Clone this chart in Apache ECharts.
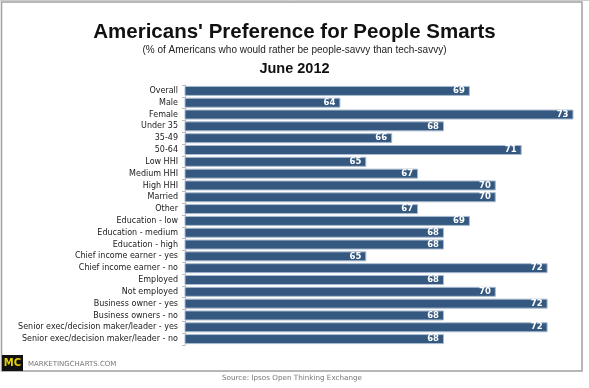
<!DOCTYPE html>
<html><head><meta charset="utf-8">
<script src="https://cdn.jsdelivr.net/npm/echarts@6/dist/echarts.min.js"></script>
<style>html,body{margin:0;padding:0;background:#fff}#c{width:589px;height:388px}</style>
</head><body><div id="c"></div>
<script>
const categories = ["Overall","Male","Female","Under 35","35-49","50-64","Low HHI","Medium HHI","High HHI","Married","Other","Education - low","Education - medium","Education - high","Chief income earner - yes","Chief income earner - no","Employed","Not employed","Business owner - yes","Business owners - no","Senior exec/decision maker/leader - yes","Senior exec/decision maker/leader - no"];
const values = [69,64,73,68,66,71,65,67,70,70,67,69,68,68,65,72,68,70,72,68,72,68];
const titleText = "Americans' Preference for People Smarts";
const subtitleText = "(% of Americans who would rather be people-savvy than tech-savvy)";
const dateText = "June 2012";
const sourceText = "Source: Ipsos Open Thinking Exchange";

const chart = echarts.init(document.getElementById('c'), null, {renderer: 'canvas'});
chart.setOption({
  animation: false,
  backgroundColor: '#fff',
  title: [
    {text: titleText, left: 'center', top: 17, textStyle: {fontFamily: 'Liberation Sans', fontWeight: 'bold', fontSize: 20.5, color: '#111'}},
    {text: subtitleText, left: 'center', top: 40, textStyle: {fontFamily: 'Liberation Sans', fontWeight: 'normal', fontSize: 10, color: '#222'}},
    {text: dateText, left: 'center', top: 56, textStyle: {fontFamily: 'Liberation Sans', fontWeight: 'bold', fontSize: 14.5, color: '#111'}}
  ],
  grid: {left: 185, top: 85, width: 388.5, height: 260, containLabel: false, outerBoundsMode: 'none'},
  xAxis: {type: 'value', min: 58, max: 73, show: false, splitLine: {show: false}},
  yAxis: {
    type: 'category', data: categories, inverse: true,
    axisLine: {show: true, lineStyle: {color: '#bbbbbb', width: 1}},
    axisTick: {show: true, length: 3, lineStyle: {color: '#bbbbbb'}},
    axisLabel: {margin: 7, fontSize: 8, fontFamily: 'DejaVu Sans', color: '#1a1a1a'}
  },
  series: [{
    type: 'bar', data: values, barWidth: 10,
    itemStyle: {color: '#34587f', borderColor: '#a9bbd0', borderWidth: 1},
    label: {show: true, position: 'insideRight', distance: 5, color: '#fff', fontWeight: 'bold', fontSize: 8.5, fontFamily: 'DejaVu Sans'}
  }],
  graphic: [
    {type: 'rect', shape: {x: 1.5, y: 2, width: 580.5, height: 369}, style: {fill: null, stroke: '#a0a0a0', lineWidth: 1.5}, silent: true},
    {type: 'line', shape: {x1: 0, y1: 0.5, x2: 589, y2: 0.5}, style: {stroke: '#cccccc', lineWidth: 1}},
    {type: 'rect', shape: {x: 2, y: 355, width: 21, height: 16}, style: {fill: '#111'}},
    {type: 'text', x: 12.5, y: 363, style: {text: 'MC', fill: '#e8d000', font: 'bold 10px "DejaVu Sans"', align: 'center', verticalAlign: 'middle'}},
    {type: 'text', x: 28, y: 364, style: {text: 'MARKETINGCHARTS.COM', fill: '#777', font: '7px "DejaVu Sans"', align: 'left', verticalAlign: 'middle'}},
    {type: 'text', x: 292, y: 378, style: {text: sourceText, fill: '#777', font: '7.2px "DejaVu Sans"', align: 'center', verticalAlign: 'middle'}}
  ]
});
</script></body></html>
